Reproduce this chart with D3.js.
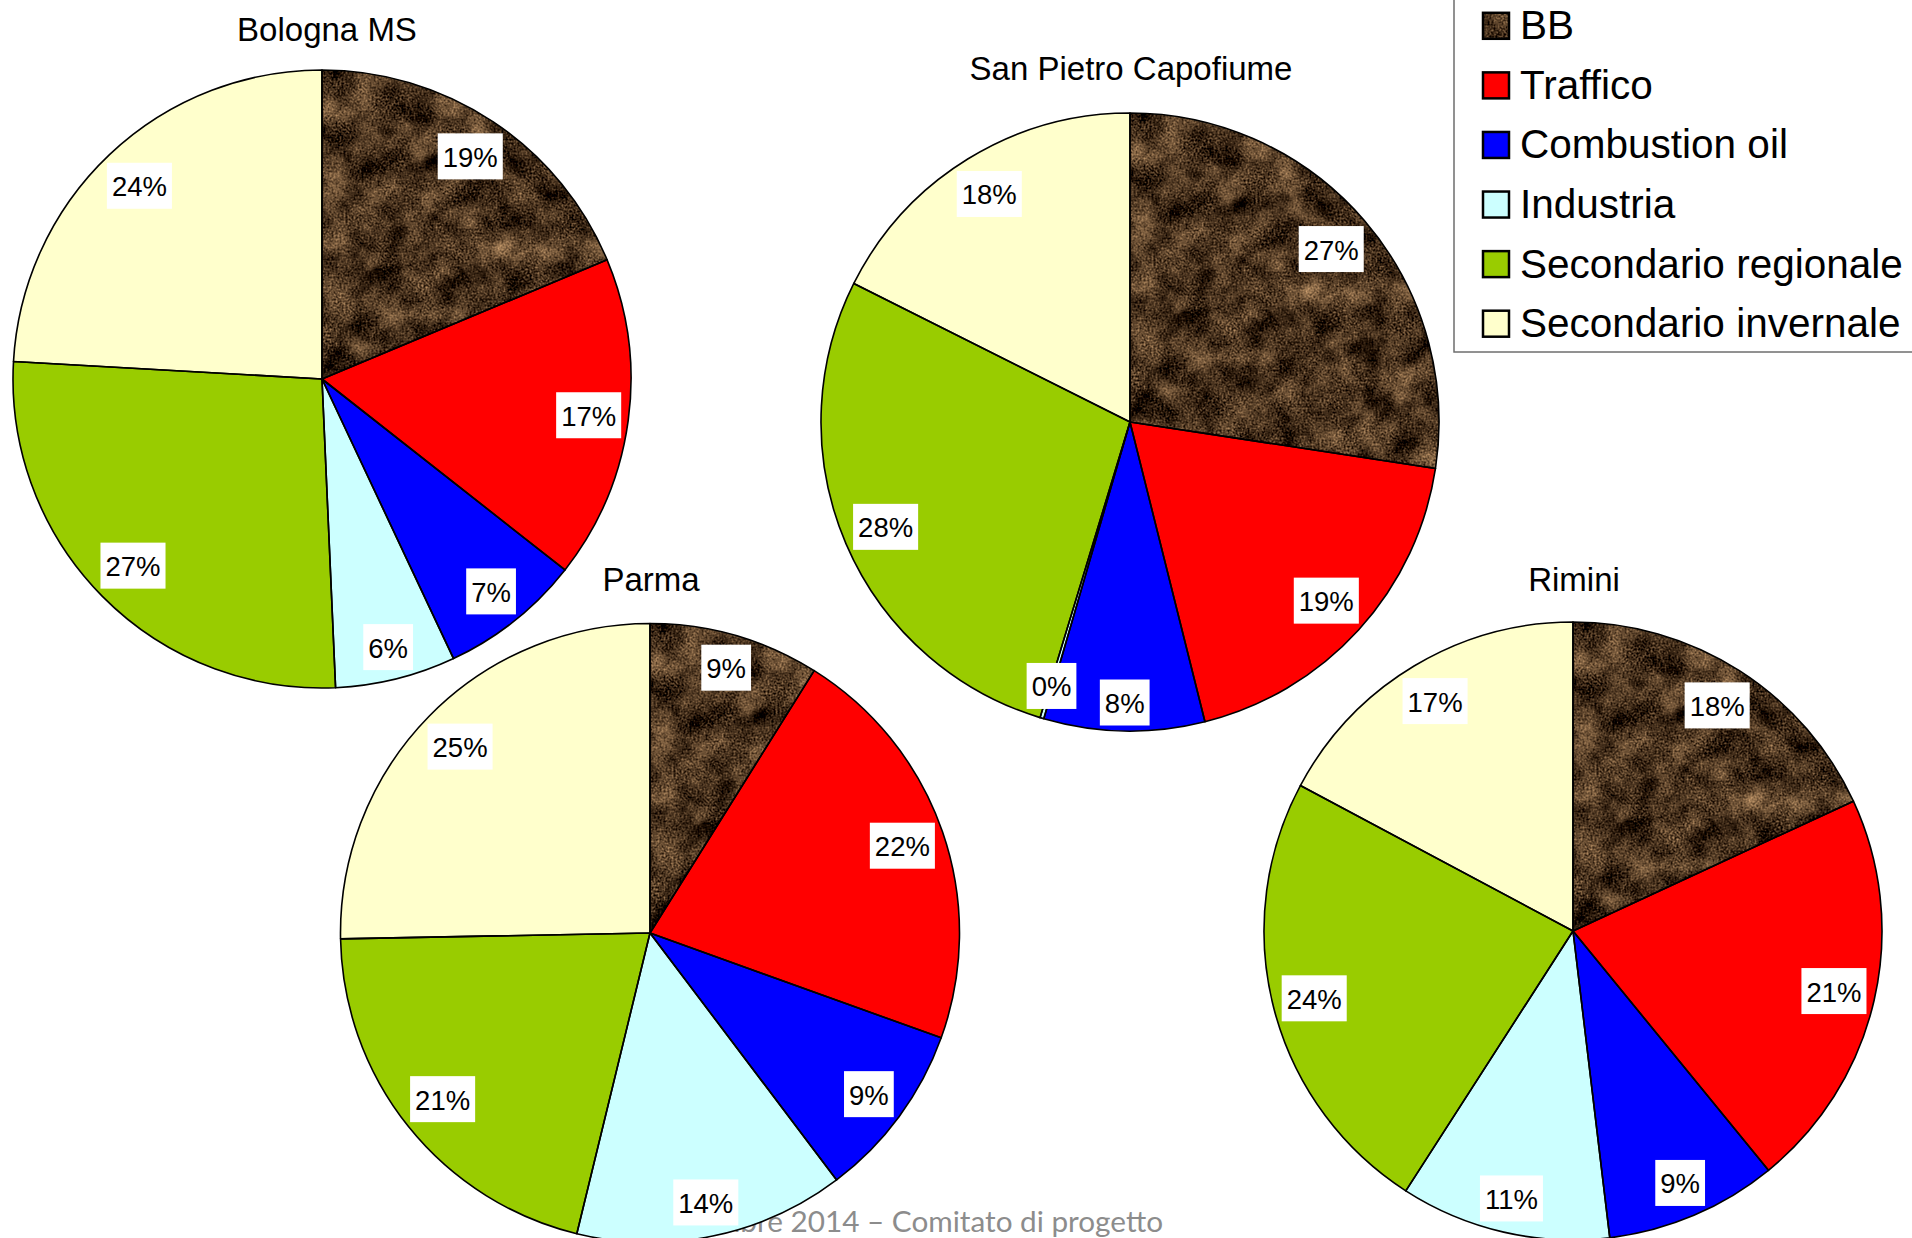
<!DOCTYPE html>
<html>
<head>
<meta charset="utf-8">
<script src="https://cdn.jsdelivr.net/npm/d3@7/dist/d3.min.js"></script>
<style>
  html, body { margin: 0; padding: 0; background: #ffffff; }
  svg { display: block; }
</style>
</head>
<body>
<svg id="chart" width="1912" height="1238"></svg>
<script>
// ---------- DATA ----------
const categories = ["BB", "Traffico", "Combustion oil", "Industria", "Secondario regionale", "Secondario invernale"];
const sites = ["Bologna MS", "San Pietro Capofiume", "Parma", "Rimini"];
const bolognaValues = [18.7, 16.9, 7.4, 6.3, 26.6, 24.1];
const sanPietroValues = [27.4, 18.7, 8.4, 0.2, 27.7, 17.6];
const parmaValues = [8.9, 21.6, 9.2, 14.1, 20.9, 25.3];
const riminiValues = [18.1, 21.0, 9.0, 11.0, 23.7, 17.2];
const siteValues = [bolognaValues, sanPietroValues, parmaValues, riminiValues];
const footerHidden = "Novem";
const footerVisible = "bre 2014 – Comitato di progetto";

// ---------- LAYOUT / STYLE ----------
const layout = [
  { cx: 322, cy: 379, r: 309, titleX: 327, titleY: 41 },
  { cx: 1130, cy: 422, r: 309, titleX: 1131, titleY: 80 },
  { cx: 650, cy: 933, r: 309.5, titleX: 651, titleY: 591 },
  { cx: 1573, cy: 931, r: 309, titleX: 1574, titleY: 591 }
];
const colors = ["marble", "#FF0000", "#0000FF", "#CCFFFF", "#99CC00", "#FFFFCC"];
const fontFamily = "'Liberation Sans', Arial, Helvetica, sans-serif";

const svg = d3.select("#chart");
const defs = svg.append("defs");

// marble texture filter for BB
const f = defs.append("filter")
  .attr("id", "marble")
  .attr("x", "-5%").attr("y", "-5%").attr("width", "110%").attr("height", "110%")
  .attr("color-interpolation-filters", "sRGB");
f.append("feTurbulence").attr("type", "fractalNoise").attr("baseFrequency", "0.035")
  .attr("numOctaves", 4).attr("seed", 7).attr("result", "big");
f.append("feTurbulence").attr("type", "fractalNoise").attr("baseFrequency", "0.5")
  .attr("numOctaves", 1).attr("seed", 3).attr("result", "grain");
f.append("feComposite").attr("in", "big").attr("in2", "grain").attr("operator", "arithmetic")
  .attr("k1", 0).attr("k2", 0.5).attr("k3", 0.5).attr("k4", 0).attr("result", "mix");
f.append("feColorMatrix").attr("in", "mix").attr("type", "matrix")
  .attr("values", "1.45 0 0 0 -0.44  1.2 0 0 0 -0.40  0.9 0 0 0 -0.33  0 0 0 0 1")
  .attr("result", "col");
f.append("feComposite").attr("in", "col").attr("in2", "SourceGraphic").attr("operator", "in");

// ---------- FOOTER (behind pies) ----------
const footer = svg.append("text")
  .attr("x", 1163).attr("y", 1232)
  .attr("text-anchor", "end")
  .attr("font-family", "Lato, 'Open Sans', sans-serif")
  .attr("font-size", 24)
  .attr("fill", "#8c8c8c");
footer.append("tspan").text(footerHidden);
const visT = footer.append("tspan").text(footerVisible);
const visW = visT.node().getComputedTextLength();
footer.attr("font-size", 24 * 423 / visW);

// ---------- PIES ----------
const pie = d3.pie().sort(null).value(d => d);
const fmt = v => Math.round(v) + "%";

sites.forEach((site, i) => {
  const L = layout[i];
  const vals = siteValues[i];
  const total = d3.sum(vals);
  const arcs = pie(vals);
  const arc = d3.arc().innerRadius(0).outerRadius(L.r);
  const g = svg.append("g").attr("transform", `translate(${L.cx},${L.cy})`);

  arcs.forEach((a, k) => {
    if (colors[k] === "marble") {
      g.append("path").attr("d", arc(a)).attr("fill", "#000")
        .attr("filter", "url(#marble)");
    } else {
      g.append("path").attr("d", arc(a)).attr("fill", colors[k]);
    }
  });
  arcs.forEach(a => {
    g.append("path").attr("d", arc(a)).attr("fill", "none")
      .attr("stroke", "#000").attr("stroke-width", 1.6).attr("stroke-linejoin", "round");
  });

  // labels
  const R = L.r - 4;
  arcs.forEach(a => {
    const pct = a.value / total * 100;
    const txt = fmt(pct);
    const mid = (a.startAngle + a.endAngle) / 2;
    const ux = Math.sin(mid), uy = -Math.cos(mid);
    const lg = g.append("g");
    const t = lg.append("text")
      .attr("font-family", fontFamily)
      .attr("font-size", 27.5)
      .attr("fill", "#000")
      .attr("text-anchor", "middle")
      .attr("dominant-baseline", "central")
      .text(txt);
    const tw = t.node().getComputedTextLength();
    const hw = (tw + 10) / 2, hh = 23;
    const b = Math.abs(ux) * hw + Math.abs(uy) * hh;
    const c = hw * hw + hh * hh - R * R;
    const d = -b + Math.sqrt(b * b - c);
    const x = d * ux, y = d * uy;
    lg.insert("rect", "text")
      .attr("x", x - hw).attr("y", y - hh)
      .attr("width", hw * 2).attr("height", hh * 2)
      .attr("fill", "#fff");
    t.attr("x", x).attr("y", y + 1);
  });

  svg.append("text")
    .attr("x", L.titleX).attr("y", L.titleY)
    .attr("text-anchor", "middle")
    .attr("font-family", fontFamily)
    .attr("font-size", 33)
    .attr("fill", "#000")
    .text(site);
});

// ---------- LEGEND ----------
const lg = svg.append("g");
lg.append("rect")
  .attr("x", 1454).attr("y", -10).attr("width", 500).attr("height", 362)
  .attr("fill", "#fff").attr("stroke", "#6e6e6e").attr("stroke-width", 1.5);
const legY = d3.scalePoint().domain(categories).range([25.8, 323.7]);
categories.forEach((cat, k) => {
  const cy = legY(cat);
  if (colors[k] === "marble") {
    lg.append("rect").attr("x", 1483).attr("y", cy - 13).attr("width", 26).attr("height", 26)
      .attr("fill", "#000").attr("filter", "url(#marble)");
  } else {
    lg.append("rect").attr("x", 1483).attr("y", cy - 13).attr("width", 26).attr("height", 26)
      .attr("fill", colors[k]);
  }
  lg.append("rect").attr("x", 1483).attr("y", cy - 13).attr("width", 26).attr("height", 26)
    .attr("fill", "none").attr("stroke", "#000").attr("stroke-width", 2.5);
  lg.append("text")
    .attr("x", 1520).attr("y", cy + 13.5)
    .attr("font-family", fontFamily)
    .attr("font-size", 40.5)
    .attr("fill", "#000")
    .text(cat);
});
</script>
</body>
</html>
